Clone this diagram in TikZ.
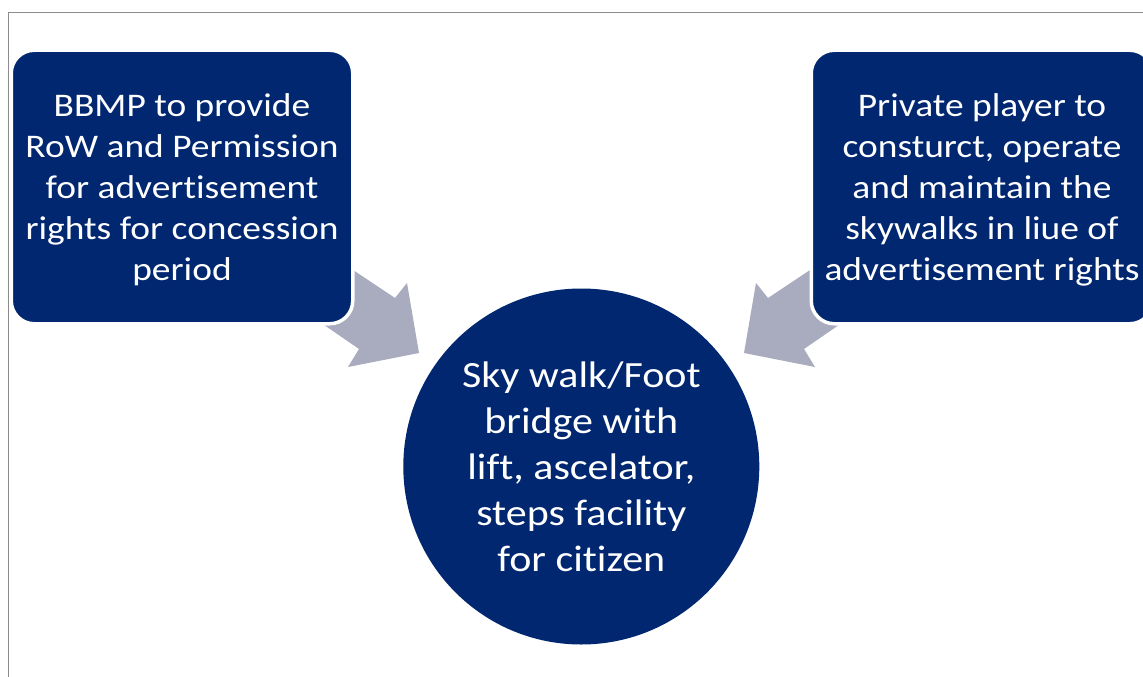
\documentclass[tikz,border=0pt]{standalone}
\usepackage{fontspec}
\setmainfont[FakeStretch=1.135, Ligatures=NoCommon]{Carlito}
\definecolor{navy}{RGB}{0,39,112}
\definecolor{arrowgray}{RGB}{169,171,190}
\definecolor{framegray}{RGB}{140,140,140}
\begin{document}
\begin{tikzpicture}[x=1pt,y=-1pt,
  boxstyle/.style={fill=navy, draw=white, line width=3.5pt, rounded corners=23pt},
  boxtext/.style={text=white, align=center, font=\fontsize{33}{41}\selectfont},
  circstyle/.style={circle, fill=navy, text=white, align=center, inner sep=0pt,
    minimum size=356pt, font=\fontsize{37}{46}\selectfont},
  blockarrow/.style={fill=arrowgray, draw=none}]
\useasboundingbox (0,0) rectangle (1143,677);
\fill[white] (0,0) rectangle (1143,677);
% frame
\draw[framegray, line width=1.5pt] (8.5,677) -- (8.5,12.5) -- (1143,12.5);
% arrows
\coordinate (la1) at (326,252);
\coordinate (la2) at (395,298);
\coordinate (la3) at (407,283);
\coordinate (latip) at (419,353);
\coordinate (la5) at (348,367);
\coordinate (la6) at (359,349);
\coordinate (la7) at (298,307);
\fill[blockarrow] (la1) -- (la2) -- (la3) -- (latip) -- (la5) -- (la6) -- (la7) -- cycle;
\coordinate (ra1) at (837,252);
\coordinate (ra2) at (768,298);
\coordinate (ra3) at (756,283);
\coordinate (ratip) at (744,353);
\coordinate (ra5) at (815,367);
\coordinate (ra6) at (804,349);
\coordinate (ra7) at (865,307);
\fill[blockarrow] (ra1) -- (ra2) -- (ra3) -- (ratip) -- (ra5) -- (ra6) -- (ra7) -- cycle;
% boxes
\path[boxstyle] (11.25,50.25) rectangle (352.75,323.75);
\node[boxtext] (left) at (182,189.5)
  {BBMP to provide\\RoW and Permission\\for advertisement\\rights for concession\\period};
\path[boxstyle] (811.25,50.25) rectangle (1152.75,323.75);
\node[boxtext] (right) at (982,189.5)
  {Private player to\\consturct, operate\\and maintain the\\skywalks in liue of\\advertisement rights};
% circle
\node[circstyle] (center) at (581.3,466.5)
  {Sky walk/Foot\\bridge with\\lift, ascelator,\\steps facility\\for citizen};
\end{tikzpicture}
\end{document}
